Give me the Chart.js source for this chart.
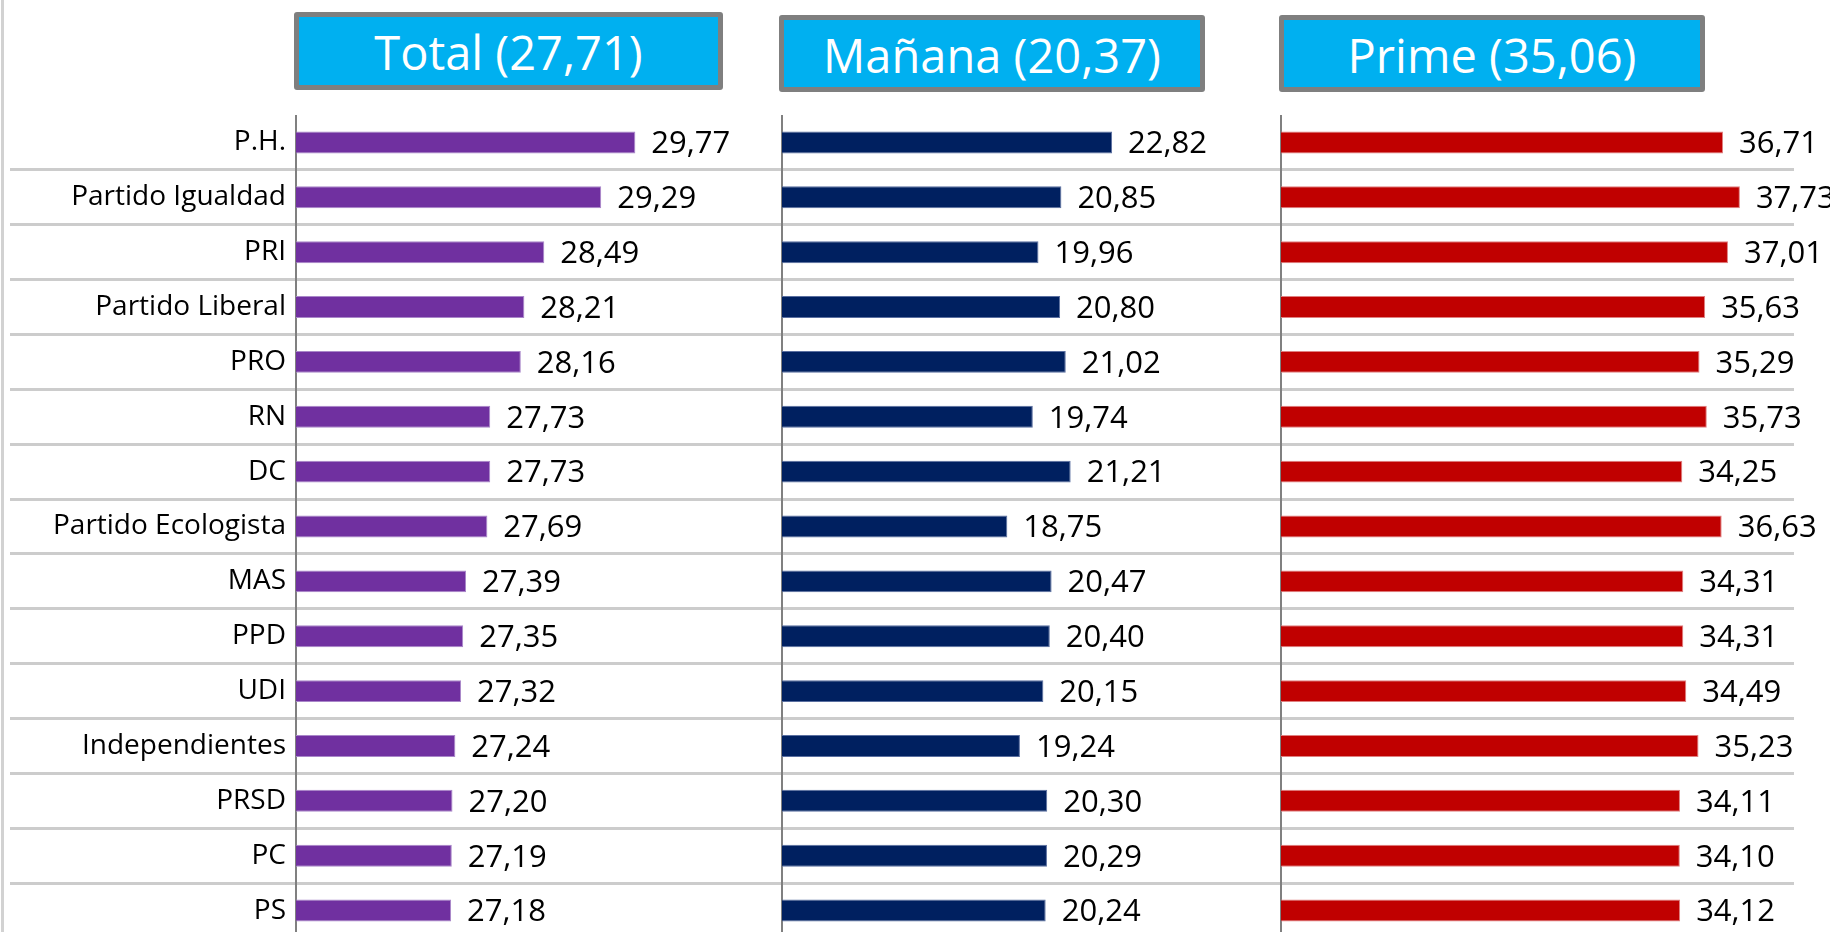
<!DOCTYPE html>
<html>
<head>
<meta charset="utf-8">
<script src="https://cdn.jsdelivr.net/npm/chart.js@4/dist/chart.umd.min.js"></script>
<style>
  html, body { margin: 0; padding: 0; width: 1830px; height: 932px; overflow: hidden; background: #fff; }
  .borde { position: absolute; left: 1px; top: 0; width: 3px; height: 932px; background: #d2d2d2; }
  .titulo { position: absolute; box-sizing: border-box; background: #00b0f0; border: 5px solid #7f7f7f; border-radius: 3px;
            color: #fff; font-family: "Open Sans", sans-serif; font-size: 47px; text-align: center; line-height: 70px; }
  .panel { position: absolute; top: 115px; height: 823px; }
</style>
</head>
<body>
<div class="borde"></div>
<div class="titulo" id="t0" style="left:294px; top:12px; width:429px; height:78px;"></div>
<div class="titulo" id="t1" style="left:779px; top:15px; width:426px; height:77px;"></div>
<div class="titulo" id="t2" style="left:1279px; top:15px; width:426px; height:77px;"></div>
<div class="panel" style="left:0; width:794px;"><canvas id="c0"></canvas></div>
<div class="panel" style="left:778px; width:519px;"><canvas id="c1"></canvas></div>
<div class="panel" style="left:1277px; width:553px;"><canvas id="c2"></canvas></div>
<script>
const partidos = ['P.H.', 'Partido Igualdad', 'PRI', 'Partido Liberal', 'PRO', 'RN', 'DC', 'Partido Ecologista',
  'MAS', 'PPD', 'UDI', 'Independientes', 'PRSD', 'PC', 'PS'];
const total = [29.77, 29.29, 28.49, 28.21, 28.16, 27.73, 27.73, 27.69, 27.39, 27.35, 27.32, 27.24, 27.20, 27.19, 27.18];
const manana = [22.82, 20.85, 19.96, 20.80, 21.02, 19.74, 21.21, 18.75, 20.47, 20.40, 20.15, 19.24, 20.30, 20.29, 20.24];
const prime = [36.71, 37.73, 37.01, 35.63, 35.29, 35.73, 34.25, 36.63, 34.31, 34.31, 34.49, 35.23, 34.11, 34.10, 34.12];
const titulos = ['Total', 'Mañana', 'Prime'];
const promedios = [27.71, 20.37, 35.06];

const coma = v => v.toFixed(2).replace('.', ',');

titulos.forEach((t, i) => {
  document.getElementById('t' + i).textContent = t + ' (' + coma(promedios[i]) + ')';
});

// numeros al final de cada barra
const etiquetas = {
  id: 'etiquetas',
  afterDatasetsDraw(chart) {
    const ctx = chart.ctx;
    const valores = chart.data.datasets[0].data;
    ctx.save();
    ctx.font = '31px "Open Sans"';
    ctx.fillStyle = '#000';
    ctx.textBaseline = 'middle';
    chart.getDatasetMeta(0).data.forEach((bar, i) => {
      ctx.fillText(coma(valores[i]), bar.x + 16, bar.y + 2);
    });
    ctx.restore();
  }
};

const gris = c => c.index === 0 ? 'rgba(0,0,0,0)' : '#cccccc';

function panel(id, datos, color, borde, min, max, conEtiquetas, derecha) {
  const ancho = conEtiquetas ? 296 : 4;
  return new Chart(document.getElementById(id), {
    type: 'bar',
    data: {
      labels: partidos,
      datasets: [{
        data: datos,
        backgroundColor: color,
        borderColor: borde,
        borderWidth: 1,
        barPercentage: 0.4,
        categoryPercentage: 1
      }]
    },
    options: {
      indexAxis: 'y',
      responsive: true,
      maintainAspectRatio: false,
      animation: false,
      layout: { padding: { left: 0, top: 0, bottom: 0, right: derecha } },
      plugins: { legend: { display: false }, tooltip: { enabled: false } },
      scales: {
        x: { display: false, min: min, max: max },
        y: {
          grid: { offset: true, color: gris, lineWidth: 3, drawTicks: true, tickLength: conEtiquetas ? ancho - 10 : ancho },
          border: { display: true, color: '#808080', width: 2 },
          ticks: {
            display: conEtiquetas,
            autoSkip: false,
            padding: -276,
            color: '#000',
            font: { family: '"Open Sans"', size: 28 }
          },
          afterFit: s => { s.width = ancho; }
        }
      }
    },
    plugins: [etiquetas]
  });
}

panel('c0', total, '#7030a0', '#a987c9', 25, 32, true, 0);
panel('c1', manana, '#002060', '#5a6fa0', 10, 30, false, 0);
panel('c2', prime, '#c00000', '#e08080', 10, 41, false, 36);
</script>
</body>
</html>
